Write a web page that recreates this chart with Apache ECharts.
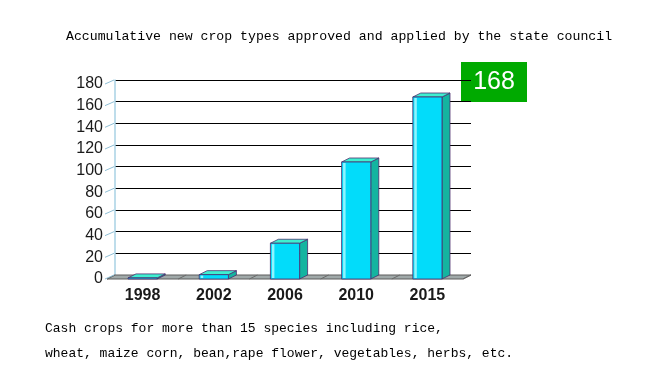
<!DOCTYPE html>
<html>
<head>
<meta charset="utf-8">
<script src="https://cdn.jsdelivr.net/npm/echarts@6/dist/echarts.min.js"></script>
<style>
  html, body { margin: 0; padding: 0; background: #fff; }
  #chart { width: 659px; height: 377px; }
</style>
</head>
<body>
<div id="chart"></div>
<script>
var years = ['1998', '2002', '2006', '2010', '2015'];
var cropTypes = [1, 4, 33, 108, 168];
var yTicks = { min: 0, max: 180, interval: 20 };
var titleText = 'Accumulative new crop types approved and applied by the state council';
var noteLines = [
  'Cash crops for more than 15 species including rice,',
  'wheat, maize corn, bean,rape flower, vegetables, herbs, etc.'
];
var highlight = '168';

var depthX = 8, depthY = -4;
var monoFont = '"Liberation Mono", "DejaVu Sans Mono", monospace';

var myChart = echarts.init(document.getElementById('chart'));

function renderBar(params, api) {
  var idx = api.value(0);
  var top = api.coord([idx, api.value(1)]);
  var base = api.coord([idx, 0]);
  var w = api.size([1, 0])[0] * 0.41;
  var x0 = top[0] - w / 2, x1 = top[0] + w / 2;
  var yt = top[1], yb = base[1];
  var edge = { stroke: '#4b2d6e', lineWidth: 0.8 };
  return {
    type: 'group',
    children: [
      { type: 'polygon', shape: { points: [[x1, yt], [x1 + depthX, yt + depthY], [x1 + depthX, yb + depthY], [x1, yb]] },
        style: Object.assign({ fill: '#14b4a0' }, edge) },
      { type: 'polygon', shape: { points: [[x0, yt], [x1, yt], [x1 + depthX, yt + depthY], [x0 + depthX, yt + depthY]] },
        style: Object.assign({ fill: '#3ef0d0' }, edge) },
      { type: 'rect', shape: { x: x0, y: yt, width: w, height: yb - yt },
        style: Object.assign({ fill: '#02dcfa' }, edge) },
      { type: 'rect', shape: { x: x0 + 1.5, y: yt + 1, width: 2.5, height: Math.max(0, yb - yt - 2) },
        style: { fill: '#8ff4ff' } }
    ]
  };
}

function renderFloor(params, api) {
  var cs = params.coordSys;
  var yb = cs.y + cs.height;
  var xl = cs.x, xr = cs.x + cs.width;
  var marks = [];
  for (var i = 0; i <= years.length; i++) {
    var tx = xl + cs.width * i / years.length;
    marks.push({ type: 'line', shape: { x1: tx, y1: yb, x2: tx + depthX, y2: yb + depthY },
      style: { stroke: '#6a6a6a', lineWidth: 1 } });
  }
  // slanted ticks joining the front labels to the back wall
  for (var v = yTicks.min; v <= yTicks.max; v += yTicks.interval) {
    var p = api.coord([0, v]);
    marks.push({ type: 'line', shape: { x1: xl - 2, y1: p[1], x2: xl + depthX - 1, y2: p[1] + depthY },
      style: { stroke: '#8fbfd6', lineWidth: 1 } });
  }
  return {
    type: 'group',
    children: [
      { type: 'polygon', shape: { points: [[xl, yb], [xr, yb], [xr + depthX, yb + depthY], [xl + depthX, yb + depthY]] },
        style: { fill: '#a0a9a9', stroke: '#5c5c5c', lineWidth: 1 } }
    ].concat(marks)
  };
}

var option = {
  backgroundColor: '#ffffff',
  animation: false,
  title: {
    text: titleText,
    left: 61,
    top: 25,
    textStyle: { fontFamily: monoFont, fontSize: 13.2, fontWeight: 'normal', color: '#000' }
  },
  grid: [
    { left: 107, top: 84, width: 356, height: 195 },
    { left: 115, top: 80, width: 356, height: 195 }
  ],
  xAxis: [
    {
      type: 'category', gridIndex: 0, data: years,
      axisLine: { show: false }, axisTick: { show: false },
      axisLabel: { margin: 9, fontFamily: 'Liberation Sans, Arial', fontSize: 16, fontWeight: 'bold', color: '#1a1a1a' }
    },
    { type: 'category', gridIndex: 1, data: years, show: false }
  ],
  yAxis: [
    {
      type: 'value', gridIndex: 0, min: yTicks.min, max: yTicks.max, interval: yTicks.interval,
      splitLine: { show: false },
      axisLine: { show: false },
      axisTick: { show: false },
      axisLabel: { margin: 4, fontFamily: 'Liberation Sans, Arial', fontSize: 16, color: '#1a1a1a',
        padding: [3, 0, 0, 0] }
    },
    {
      type: 'value', gridIndex: 1, min: yTicks.min, max: yTicks.max, interval: yTicks.interval,
      splitLine: { show: true, lineStyle: { color: '#000', width: 1 } },
      axisLine: { show: true, lineStyle: { color: '#a9d2e4', width: 1.5 } },
      axisTick: { show: false },
      axisLabel: { show: false }
    }
  ],
  graphic: [
    {
      type: 'group', left: 461, top: 62,
      children: [
        { type: 'rect', shape: { x: 0, y: 0, width: 66, height: 40 }, style: { fill: '#00aa00' } },
        { type: 'text', x: 33, y: 20,
          style: { text: highlight, fill: '#fff', fontFamily: 'Liberation Sans, Arial', fontSize: 25,
            align: 'center', verticalAlign: 'middle' } }
      ]
    },
    {
      type: 'text', left: 45, top: 322,
      style: { text: noteLines[0], fill: '#000', fontFamily: monoFont, fontSize: 13 }
    },
    {
      type: 'text', left: 45, top: 347,
      style: { text: noteLines[1], fill: '#000', fontFamily: monoFont, fontSize: 13 }
    }
  ],
  series: [
    {
      type: 'custom', xAxisIndex: 0, yAxisIndex: 0,
      renderItem: renderFloor, data: [[0, 0]], z: 1, silent: true
    },
    {
      type: 'custom', xAxisIndex: 0, yAxisIndex: 0,
      renderItem: renderBar,
      encode: { x: 0, y: 1 },
      data: years.map(function (y, i) { return [i, cropTypes[i]]; }),
      z: 2
    }
  ]
};

myChart.setOption(option);
</script>
</body>
</html>
